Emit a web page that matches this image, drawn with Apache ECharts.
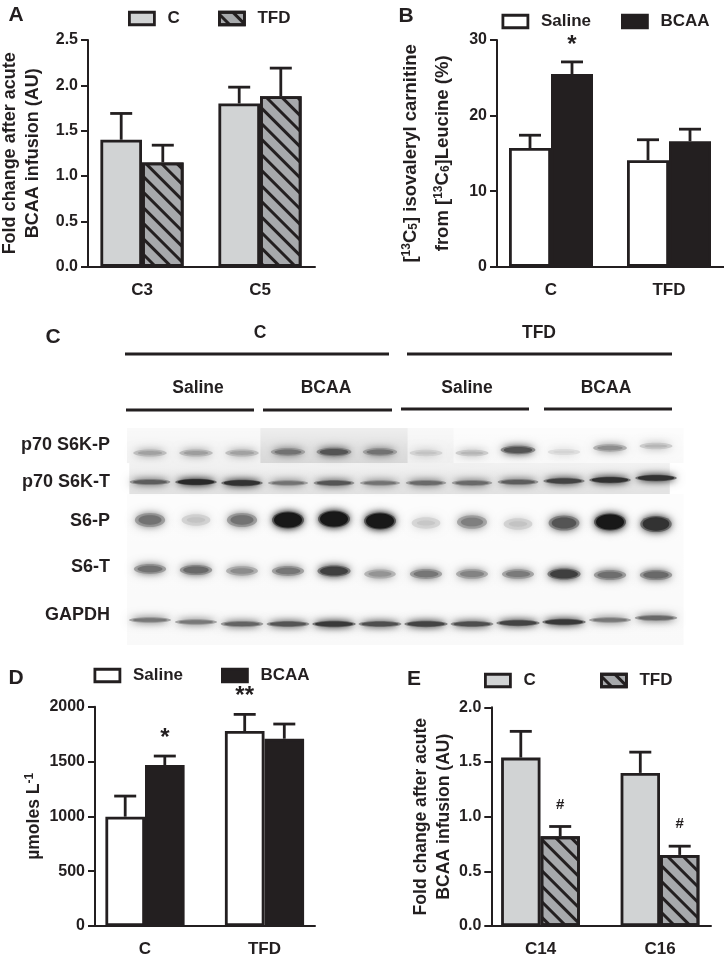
<!DOCTYPE html>
<html>
<head>
<meta charset="utf-8">
<title>BCAA infusion panels</title>
<script src="https://cdn.jsdelivr.net/npm/echarts@6/dist/echarts.min.js"></script>
<style>
  html, body { margin: 0; padding: 0; background: #fff; }
  #main { width: 724px; height: 961px; }
</style>
</head>
<body>
<div id="main"></div>
<script>
// panel A
const aCats = ['C3', 'C5']
const aTicks = [0, 0.5, 1, 1.5, 2, 2.5]
const aControl = [1.40, 1.80]
const aControlTop = [1.69, 1.98]
const aTfd = [1.15, 1.88]
const aTfdTop = [1.34, 2.19]

// panel B
const bCats = ['C', 'TFD']
const bSaline = [15.7, 14.1]
const bSalineTop = [17.4, 16.8]
const bBcaa = [25.5, 16.6]
const bBcaaTop = [27.1, 18.2]
const bBcaaSig = ['*', '']

// panel D
const dCats = ['C', 'TFD']
const dSaline = [997, 1778]
const dSalineTop = [1185, 1930]
const dSalineSig = ['', '**']
const dBcaa = [1468, 1708]
const dBcaaTop = [1550, 1842]
const dBcaaSig = ['*', '']

// panel E
const eCats = ['C14', 'C16']
const eControl = [1.54, 1.40]
const eControlTop = [1.78, 1.59]
const eTfd = [0.82, 0.65]
const eTfdTop = [0.91, 0.73]
const eTfdSig = ['#', '#']

// panel C, western blot: darkness 0-1 and migration of each of the 12 lanes
const blotRows = ['p70 S6K-P', 'p70 S6K-T', 'S6-P', 'S6-T', 'GAPDH']
const p70pDark = [0.36, 0.38, 0.36, 0.58, 0.72, 0.58, 0.2, 0.26, 0.72, 0.12, 0.45, 0.26]
const p70pMig = [26, 26, 26, 25, 25, 25, 26, 26, 23, 25, 21, 19]
const p70tDark = [0.68, 0.92, 0.88, 0.58, 0.72, 0.58, 0.62, 0.62, 0.68, 0.8, 0.88, 0.88]
const p70tMig = [55, 55, 56, 56, 56, 56, 56, 56, 55, 54, 53, 51]
const s6pDark = [0.58, 0.2, 0.58, 1, 1, 1, 0.18, 0.52, 0.2, 0.72, 1, 0.88]
const s6pMig = [93, 93, 93, 93, 92, 94, 96, 95, 97, 96, 95, 97]
const s6tDark = [0.58, 0.62, 0.46, 0.56, 0.82, 0.42, 0.56, 0.5, 0.54, 0.82, 0.6, 0.62]
const s6tMig = [142, 143, 144, 144, 144, 147, 147, 147, 147, 147, 148, 148]
const gapdhDark = [0.55, 0.55, 0.65, 0.72, 0.85, 0.75, 0.8, 0.75, 0.8, 0.85, 0.55, 0.62]
const gapdhMig = [193, 195, 197, 197, 197, 197, 197, 197, 196, 195, 193, 191]
const blotBackground = [
  [0.5, 12.6, 67, 218, 0.025],
  [0.55, 12.3, 36, 67, 0.11],
  [0.5, 3.4, 1, 36, 0.05],
  [3.4, 6.6, 1, 36, 0.15],
  [6.6, 7.6, 1, 36, 0.06],
  [7.6, 12.6, 1, 36, 0.025]
]

const ink = '#231f20'
const font = '"Liberation Sans", Arial, sans-serif'
const lightGrey = '#d1d3d4'
const midGrey = '#a7a9ac'
const hatch = {
  symbol: 'rect',
  symbolSize: 1,
  color: ink,
  dashArrayX: [1, 0],
  dashArrayY: [3, 8],
  rotation: Math.PI / 4
}

const grids = []
const xAxes = []
const yAxes = []
const series = []
const legends = []

function errorBars(name, gi, vals, tops, side, barW, sigs, sigGap) {
  return {
    name: name + ' error',
    type: 'custom',
    xAxisIndex: gi,
    yAxisIndex: gi,
    z: 1,
    encode: { x: 0, y: [1, 2] },
    data: vals.map((v, i) => [i, v, tops[i]]),
    renderItem(params, api) {
      const base = api.coord([api.value(0), api.value(1)])
      const top = api.coord([api.value(0), api.value(2)])
      const cx = base[0] + side * barW / 2
      const style = { stroke: ink, lineWidth: 2.8, fill: null }
      const kids = [
        { type: 'line', shape: { x1: cx, y1: base[1], x2: cx, y2: top[1] }, style },
        { type: 'line', shape: { x1: cx - 11, y1: top[1], x2: cx + 11, y2: top[1] }, style }
      ]
      const sig = sigs && sigs[params.dataIndex]
      if (sig) {
        const star = sig.indexOf('*') >= 0
        kids.push({
          type: 'text',
          style: {
            text: sig,
            x: cx,
            y: top[1] - sigGap,
            align: 'center',
            verticalAlign: 'middle',
            fill: ink,
            font: 'bold ' + (star ? 24 : 15) + 'px ' + font
          }
        })
      }
      return { type: 'group', children: kids }
    }
  }
}

function panel(p) {
  const gi = grids.length
  grids.push({ left: p.left, top: p.top, width: p.right - p.left, height: p.bottom - p.top, outerBoundsMode: 'none' })
  const unit = p.centers[1] - p.centers[0]
  xAxes.push({
    gridIndex: gi,
    type: 'value',
    min: (p.left - p.centers[0]) / unit,
    max: (p.right - p.centers[0]) / unit,
    splitLine: { show: false },
    axisLine: { show: true, onZero: false, lineStyle: { color: ink, width: 2 } },
    axisTick: { show: false },
    axisLabel: {
      customValues: [0, 1],
      formatter: v => p.cats[v],
      margin: 15,
      color: ink,
      fontFamily: font,
      fontWeight: 'bold',
      fontSize: 17
    }
  })
  yAxes.push({
    gridIndex: gi,
    type: 'value',
    min: 0,
    max: p.max,
    interval: p.step,
    splitLine: { show: false },
    axisLine: { show: true, onZero: false, lineStyle: { color: ink, width: 2 } },
    axisTick: { show: true, length: 7, lineStyle: { color: ink, width: 2 } },
    axisLabel: {
      margin: 10,
      color: ink,
      fontFamily: font,
      fontWeight: 'bold',
      fontSize: 16,
      formatter: p.tickFmt || (v => String(v))
    },
    name: p.yName,
    nameLocation: 'middle',
    nameGap: p.nameGap,
    nameRotate: 90,
    nameTextStyle: {
      color: ink,
      fontFamily: font,
      fontWeight: 'bold',
      fontSize: p.nameSize,
      lineHeight: p.nameLine || 23,
      rich: p.nameRich
    }
  })
  p.groups.forEach((g, k) => {
    const isLeft = k === 0
    const barStyle = { color: g.color, borderColor: ink, borderWidth: 2.8 }
    if (g.decal) barStyle.decal = g.decal
    series.push({
      name: g.name,
      type: 'bar',
      xAxisIndex: gi,
      yAxisIndex: gi,
      barWidth: p.barW,
      barGap: 0,
      z: 2 + k,
      itemStyle: barStyle,
      data: g.vals.map((v, i) => [i, v])
    })
    series.push(errorBars(g.name, gi, g.vals, g.tops, isLeft ? -1 : 1, p.barW, g.sigs, p.sigGap))
  })
  p.legendPos.forEach((pos, k) => {
    const g = p.groups[k]
    legends.push({
      left: pos[0],
      top: pos[1],
      padding: 0,
      orient: 'horizontal',
      data: [{ name: g.name, icon: 'rect' }],
      selectedMode: false,
      itemWidth: 25,
      itemHeight: 12.5,
      itemStyle: { borderWidth: 2.8, borderColor: ink },
      textStyle: {
        color: ink,
        fontFamily: font,
        fontWeight: 'bold',
        fontSize: 17,
        padding: [0, 0, 0, p.legendPad]
      }
    })
  })
}

panel({
  left: 88, right: 315, top: 40, bottom: 266.7, centers: [142, 260], barW: 41.6,
  cats: aCats, max: aTicks[aTicks.length - 1], step: aTicks[1],
  tickFmt: v => v.toFixed(1),
  yName: 'Fold change after acute\nBCAA infusion (AU)', nameGap: 43, nameSize: 18,
  legendPos: [[128, 10], [218, 10]], legendPad: 8,
  groups: [
    { name: 'C', color: lightGrey, vals: aControl, tops: aControlTop },
    { name: 'TFD', color: midGrey, decal: hatch, vals: aTfd, tops: aTfdTop }
  ]
})

panel({
  left: 497, right: 724, top: 40, bottom: 266.7, centers: [551, 669], barW: 42,
  cats: bCats, max: 30, step: 10,
  yName: '{n|[}{s|13}{n|C}{u|5}{n|] isovaleryl carnitine}\n{n|from [}{s|13}{n|C}{u|6}{n|]Leucine (%)}',
  nameRich: {
    n: { fontSize: 18.5, fontWeight: 'bold', color: ink, fontFamily: font, lineHeight: 32 },
    s: { fontSize: 12, fontWeight: 'bold', color: ink, fontFamily: font, padding: [0, 0, 8, 0], lineHeight: 32 },
    u: { fontSize: 12, fontWeight: 'bold', color: ink, fontFamily: font, padding: [6, 0, 0, 0], lineHeight: 32 }
  },
  nameGap: 38.5, nameLine: 32, nameSize: 18.5, sigGap: 17,
  legendPos: [[501.5, 13], [621, 13]], legendPad: 8,
  groups: [
    { name: 'Saline', color: '#fff', vals: bSaline, tops: bSalineTop },
    { name: 'BCAA', color: ink, vals: bBcaa, tops: bBcaaTop, sigs: bBcaaSig }
  ]
})

panel({
  left: 95, right: 315, top: 706.7, bottom: 926, centers: [145, 264.5], barW: 39.6,
  cats: dCats, max: 2000, step: 500,
  yName: '{n|\u00b5moles L}{s|-1}',
  nameRich: {
    n: { fontSize: 17.5, fontWeight: 'bold', color: ink, fontFamily: font },
    s: { fontSize: 12, fontWeight: 'bold', color: ink, fontFamily: font, padding: [0, 0, 8, 0] }
  },
  nameGap: 44, nameSize: 17.5, sigGap: 18,
  legendPos: [[93.5, 667], [221, 667]], legendPad: 8,
  groups: [
    { name: 'Saline', color: '#fff', vals: dSaline, tops: dSalineTop, sigs: dSalineSig },
    { name: 'BCAA', color: ink, vals: dBcaa, tops: dBcaaTop, sigs: dBcaaSig }
  ]
})

panel({
  left: 491.3, right: 711, top: 707.3, bottom: 926, centers: [540.5, 660], barW: 39.4,
  cats: eCats, max: 2, step: 0.5,
  tickFmt: v => v.toFixed(1),
  yName: 'Fold change after acute\nBCAA infusion (AU)', nameGap: 35, nameSize: 17.6,
  sigGap: 22,
  legendPos: [[484, 672], [600, 672]], legendPad: 8,
  groups: [
    { name: 'C', color: lightGrey, vals: eControl, tops: eControlTop },
    { name: 'TFD', color: midGrey, decal: hatch, vals: eTfd, tops: eTfdTop, sigs: eTfdSig }
  ]
})

// blot: x is lane number, y is migration down the membrane
const blotGrid = grids.length
grids.push({ left: 127, top: 427, width: 552, height: 218, outerBoundsMode: 'none' })
xAxes.push({ gridIndex: blotGrid, type: 'value', min: 0.5, max: 12.5, show: false })
yAxes.push({ gridIndex: blotGrid, type: 'value', min: 0, max: 218, inverse: true, show: false })

function greyOf(d) {
  const c = Math.round(238 - d * 214)
  return 'rgb(' + c + ',' + c + ',' + c + ')'
}

const rowDark = [p70pDark, p70tDark, s6pDark, s6tDark, gapdhDark]
const rowMig = [p70pMig, p70tMig, s6pMig, s6tMig, gapdhMig]
const rowHeight = [11, 8, 20, 14, 8]
const rowWidth = [19, 22, 17, 18, 23]
const bandData = []
rowDark.forEach((vals, r) => {
  vals.forEach((d, i) => bandData.push([i + 1, rowMig[r][i], d, r]))
})

series.push({
  name: 'membrane',
  type: 'custom',
  xAxisIndex: blotGrid,
  yAxisIndex: blotGrid,
  z: 1,
  silent: true,
  clip: false,
  encode: { x: [0, 1], y: [2, 3] },
  data: blotBackground,
  renderItem(params, api) {
    const a = api.coord([api.value(0), api.value(2)])
    const b = api.coord([api.value(1), api.value(3)])
    const alpha = api.value(4)
    return {
      type: 'rect',
      shape: { x: a[0], y: a[1], width: b[0] - a[0], height: b[1] - a[1] },
      style: {
        fill: new echarts.graphic.LinearGradient(0, 0, 0, 1, [
          { offset: 0, color: 'rgba(0,0,0,' + alpha * 0.45 + ')' },
          { offset: 1, color: 'rgba(0,0,0,' + alpha + ')' }
        ])
      }
    }
  }
})

series.push({
  name: 'bands',
  type: 'custom',
  xAxisIndex: blotGrid,
  yAxisIndex: blotGrid,
  z: 2,
  silent: true,
  encode: { x: 0, y: 1 },
  data: bandData,
  renderItem(params, api) {
    const pos = api.coord([api.value(0), api.value(1)])
    const dark = api.value(2)
    const h = rowHeight[api.value(3)]
    const w = rowWidth[api.value(3)]
    const ry = h * (0.6 + dark * 0.4) / 2
    const halo = greyOf(dark * 0.6)
    const core = greyOf(dark)
    return {
      type: 'group',
      children: [
        {
          type: 'ellipse',
          shape: { cx: pos[0], cy: pos[1], rx: w - 3 + dark * 2, ry: ry * 0.85 },
          style: { fill: halo, shadowBlur: 10, shadowColor: halo }
        },
        {
          type: 'ellipse',
          shape: { cx: pos[0], cy: pos[1], rx: w - 9 + dark * 6, ry: ry * (0.3 + dark * 0.45) },
          style: { fill: core, shadowBlur: 6, shadowColor: core }
        }
      ]
    }
  }
})

// labels and lines round the blot
function label(text, x, y, size, align) {
  return {
    type: 'text',
    x, y,
    style: {
      text,
      fill: ink,
      font: 'bold ' + size + 'px ' + font,
      align: align || 'center',
      verticalAlign: 'middle'
    }
  }
}
function rule(x1, x2, y) {
  return {
    type: 'line',
    shape: { x1, y1: y, x2, y2: y },
    style: { stroke: ink, lineWidth: 3 }
  }
}

const rowLabelY = [445, 482, 521, 567, 615]
const graphics = [
  label('A', 16, 15, 21),
  label('B', 406, 16, 21),
  label('C', 53, 337, 21),
  label('D', 16, 678, 21),
  label('E', 414, 679, 21),
  label('C', 260, 333, 17.5),
  label('TFD', 539, 333, 17.5),
  label('Saline', 198, 388, 17.5),
  label('BCAA', 326, 388, 17.5),
  label('Saline', 467, 388, 17.5),
  label('BCAA', 606, 388, 17.5),
  rule(125, 389, 354),
  rule(407, 672, 354),
  rule(126, 254, 410),
  rule(263, 392, 410),
  rule(401, 529, 409),
  rule(544, 672, 409)
]
blotRows.forEach((name, i) => graphics.push(label(name, 110, rowLabelY[i], 18, 'right')))

const myChart = echarts.init(document.getElementById('main'), null, { renderer: 'canvas' })
myChart.setOption({
  animation: false,
  backgroundColor: '#fff',
  grid: grids,
  xAxis: xAxes,
  yAxis: yAxes,
  legend: legends,
  series,
  graphic: graphics
})
</script>
</body>
</html>
